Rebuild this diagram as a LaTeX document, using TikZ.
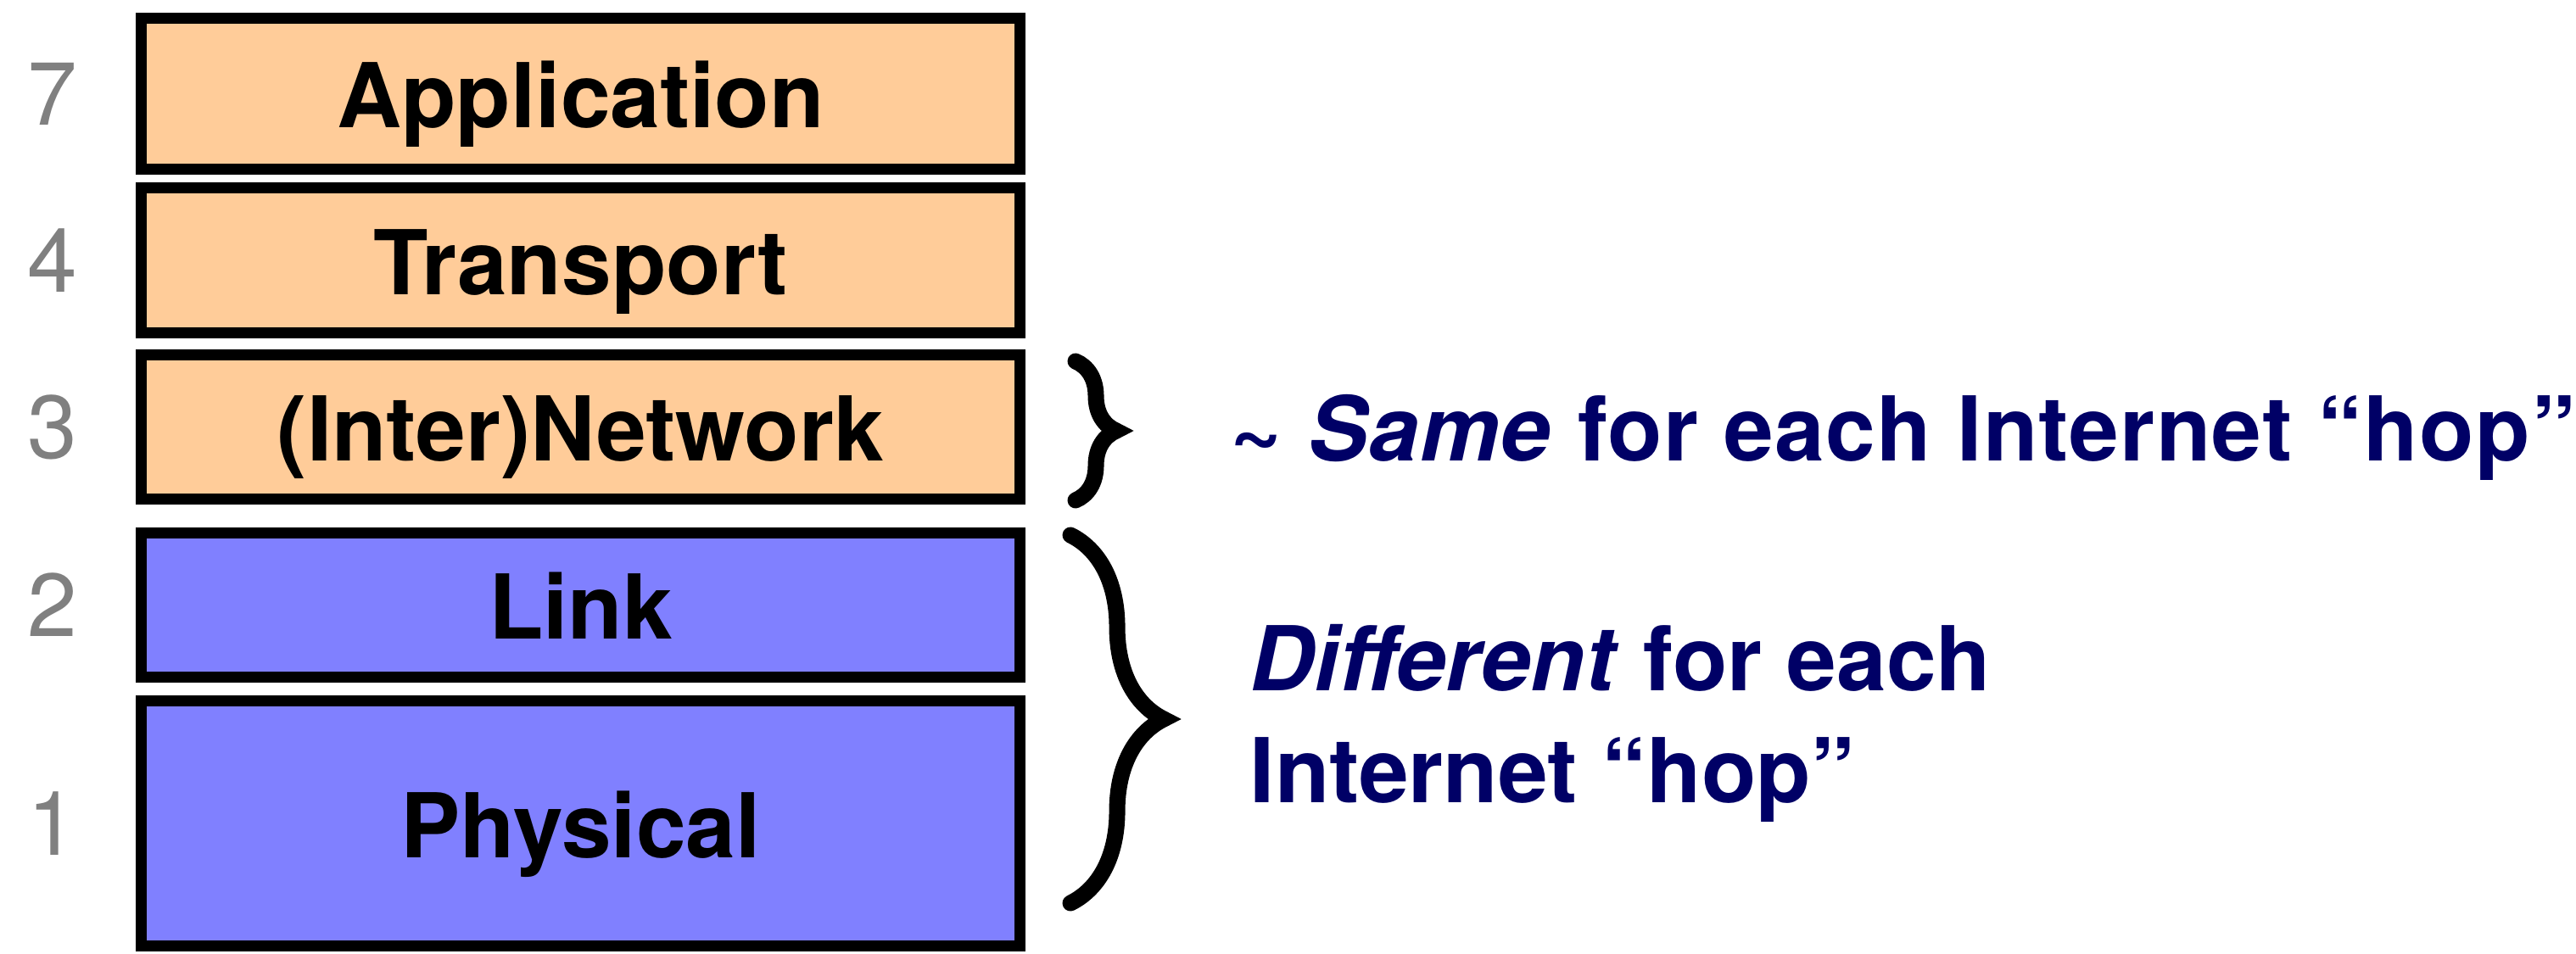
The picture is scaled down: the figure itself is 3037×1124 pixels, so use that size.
\documentclass[tikz,border=0pt]{standalone}
\usepackage{fontspec}
\setmainfont{TeX Gyre Heros}
\usetikzlibrary{decorations.pathreplacing}
\definecolor{peach}{RGB}{255,204,153}
\definecolor{lavender}{RGB}{128,128,255}
\definecolor{navy}{RGB}{0,0,102}
\definecolor{numgray}{RGB}{128,128,128}

\begin{document}
\begin{tikzpicture}[x=0.01cm, y=0.01cm]
\tikzstyle{every node}+=[inner sep=0pt]
\tikzstyle{layer}=[draw=black, line width=0.13cm, minimum width=10.36cm, text height=0.8cm, text depth=0cm, font=\fontsize{30}{36}\selectfont\bfseries]
\tikzstyle{upper}=[layer, fill=peach]
\tikzstyle{lower}=[layer, fill=lavender]
\tikzstyle{num}=[text=numgray, font=\fontsize{30}{36}\selectfont]
\tikzstyle{note}=[text=navy, anchor=base west, align=left, font=\fontsize{30}{37.5}\selectfont\bfseries]
\tikzstyle{bracket}=[decorate, line width=0.19cm, line cap=round]
\useasboundingbox (0,0) rectangle (3037,-1124);
% layers
\node [upper, minimum height=1.78cm] (app) at (684.5,-110.5) {Application};
\node [upper, minimum height=1.71cm] (trans) at (684.5,-307) {Transport};
\node [upper, minimum height=1.70cm] (net) at (684.5,-503.5) {(Inter)Network};
\node [lower, minimum height=1.70cm] (link) at (684.5,-713.5) {Link};
\node [lower, minimum height=2.89cm] (phys) at (684.5,-971) {Physical};
% layer numbers
\node [num] (n7) at (62,-110.5) {7};
\node [num] (n4) at (62,-307) {4};
\node [num] (n3) at (62,-503.5) {3};
\node [num] (n2) at (62,-713.5) {2};
\node [num] (n1) at (62,-971) {1};
% braces
\coordinate (b1top) at (1268,-426);
\coordinate (b1bot) at (1268,-590);
\coordinate (b2top) at (1262,-631);
\coordinate (b2bot) at (1262,-1065);
\draw [bracket, decoration={brace, amplitude=0.48cm}] (b1top) -- (b1bot);
\draw [bracket, decoration={brace, amplitude=1.1cm}] (b2top) -- (b2bot);
% notes
\node [note] (same) at (1450,-543) {\addfontfeature{LetterSpace=1.2}\textasciitilde{} \textit{Same} for each Internet “hop”};
\node [note] (diff) at (1473,-946) {\textit{Different} for each\\Internet “hop”};
\end{tikzpicture}
\end{document}
